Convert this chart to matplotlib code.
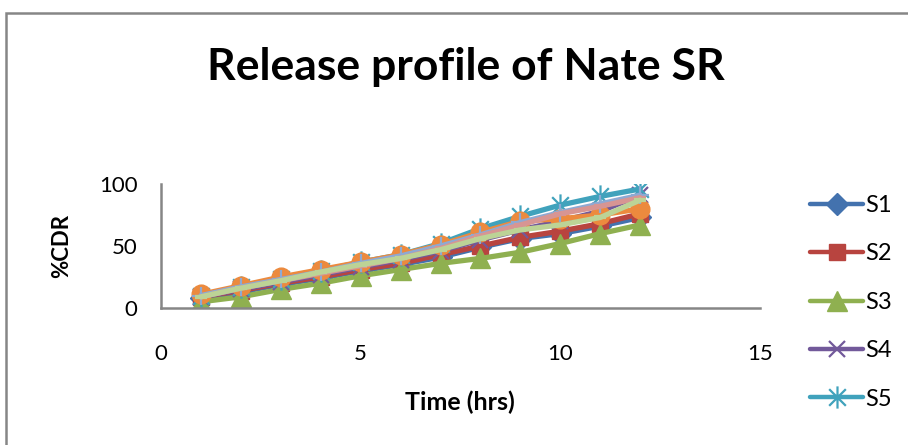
import matplotlib
matplotlib.use("Agg")
import matplotlib.pyplot as plt
from matplotlib.path import Path
from matplotlib.patches import Rectangle

plt.rcParams['font.family'] = ['Lato', 'DejaVu Sans']

hours = [1, 2, 3, 4, 5, 6, 7, 8, 9, 10, 11, 12]
S1 = [8, 13, 19, 24, 30, 35, 41, 49, 56, 60, 66, 73]
S2 = [9, 14, 20, 25, 31, 36, 43, 50, 57, 62, 68, 76]
S3 = [5, 9, 15, 20, 26, 31, 36, 40, 45, 52, 60, 67]
S4 = [9, 15, 21, 27, 33, 39, 46, 55, 63, 70, 78, 91]
S5 = [10, 17, 23, 30, 37, 43, 52, 64, 74, 83, 90, 96]
S6 = [11, 18, 25, 31, 37, 43, 51, 61, 70, 72, 75, 80]
S7 = [10, 17, 23, 29, 36, 42, 50, 59, 69, 77, 84, 91]
S8 = [9, 16, 22, 28, 34, 40, 48, 58, 67, 76, 82, 89]
S9 = [9, 16, 22, 29, 35, 40, 47, 56, 63, 67, 73, 87]
series_names = ['S1', 'S2', 'S3', 'S4', 'S5', 'S6', 'S7', 'S8', 'S9']
series_values = [S1, S2, S3, S4, S5, S6, S7, S8, S9]
x_ticks = [0, 5, 10, 15]
y_ticks = [0, 50, 100]

star = Path([(0, -1), (0, 1), (-0.75, -0.75), (0.75, 0.75), (-0.75, 0.75), (0.75, -0.75)],
            [Path.MOVETO, Path.LINETO, Path.MOVETO, Path.LINETO, Path.MOVETO, Path.LINETO])

styles = [
    dict(color='#4372AE', marker='D', ms=11),
    dict(color='#B8443F', marker='s', ms=11),
    dict(color='#8FB050', marker='^', ms=15),
    dict(color='#72599A', marker='x', ms=11, mew=1.6),
    dict(color='#40A2BC', marker=star, ms=16, mew=1.6),
    dict(color='#EC8A3E', marker='o', ms=13.5),
    dict(color='#8EA9D3', marker='+', ms=13, mew=1.6),
    dict(color='#D79593', marker='_', ms=8, mew=3),
    dict(color='#BCD396', marker='_', ms=8, mew=3),
]

W, H = 908, 445
fig = plt.figure(figsize=(W / 100, H / 100), dpi=100)
ax = fig.add_axes([161 / W, 1 - 308 / H, (760 - 161) / W, (308 - 184) / H])

handles = []
for name, vals, st in zip(series_names, series_values, styles):
    st = dict(st)
    c = st.pop('color')
    h, = ax.plot(hours, vals, color=c, lw=3.8, markerfacecolor=c, markeredgecolor=c,
                 label=name, solid_capstyle='round', solid_joinstyle='round', **st)
    handles.append(h)

ax.set_xlim(0, 15)
ax.set_ylim(0, 100)
ax.set_xticks(x_ticks)
ax.set_yticks(y_ticks)
ax.tick_params(axis='both', length=0, labelsize=16, colors='black')
ax.tick_params(axis='x', pad=26)
ax.tick_params(axis='y', pad=17)
for s in ['top', 'right']:
    ax.spines[s].set_visible(False)
for s in ['left', 'bottom']:
    ax.spines[s].set_color('#868686')
    ax.spines[s].set_linewidth(1.8)

fig.text(466 / W, 1 - 67 / H, 'Release profile of Nate SR', ha='center', va='center',
         fontsize=32, fontweight='bold')
fig.text(460 / W, 1 - 402 / H, 'Time (hrs)', ha='center', va='center',
         fontsize=18, fontweight='bold')
fig.text(62 / W, 1 - 246 / H, '%CDR', ha='center', va='center', rotation=90,
         fontsize=16, fontweight='bold')

leg = fig.legend(handles=handles[:5], labels=series_names[:5], loc='upper left',
                 bbox_to_anchor=(810 / W, 1 - 195 / H), frameon=False, fontsize=17,
                 handlelength=2.25, labelspacing=1.16, handletextpad=0.1,
                 borderpad=0, borderaxespad=0)
for lh in leg.legend_handles:
    lh.set_linewidth(3.2)

fig.patches.append(Rectangle((6 / W, -0.1), 1.2, 1.1 - 13 / H, transform=fig.transFigure,
                             fill=False, edgecolor='#868686', linewidth=1.8))

fig.savefig('out.png', dpi=100)
